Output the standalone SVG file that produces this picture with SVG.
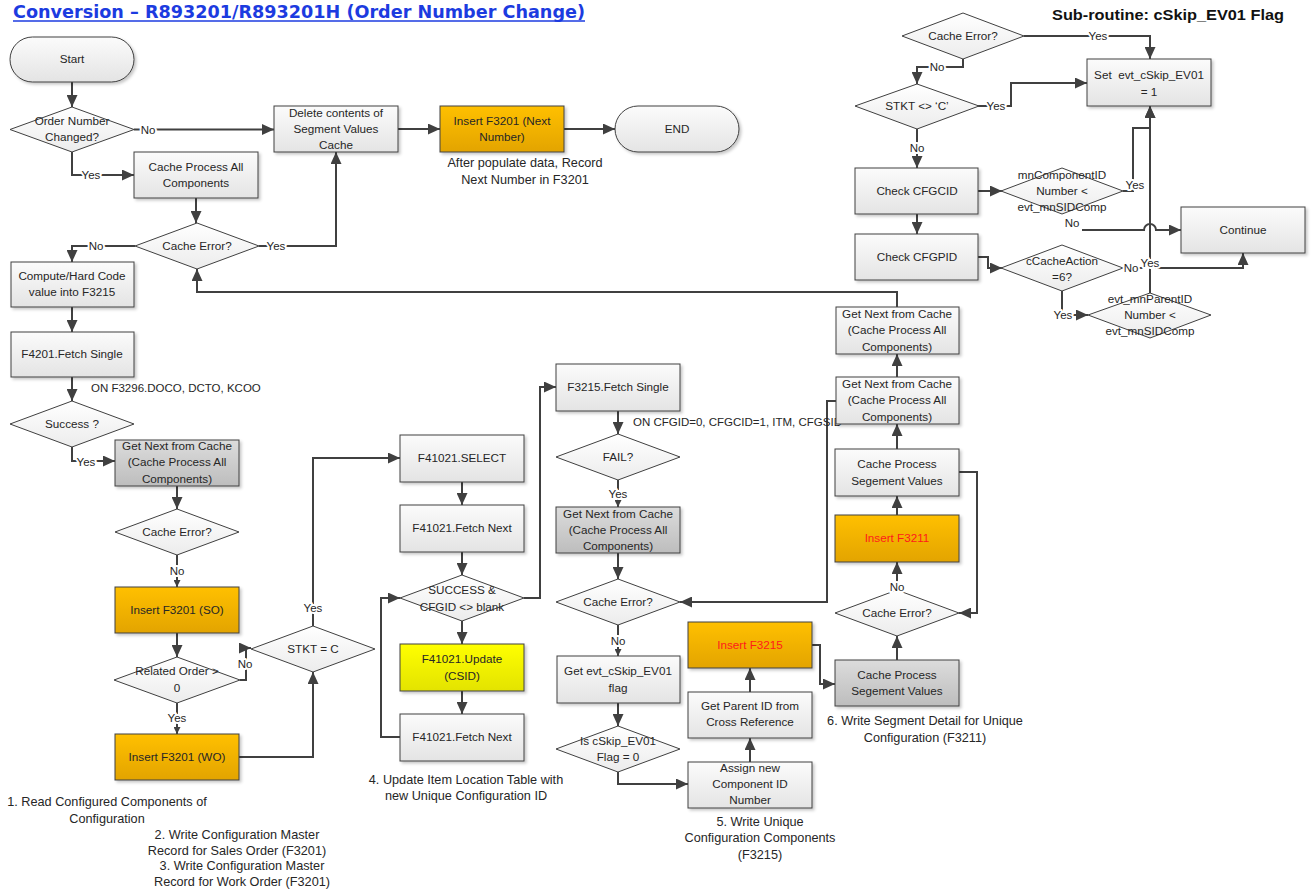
<svg xmlns="http://www.w3.org/2000/svg" width="1315" height="895" viewBox="0 0 1315 895">
<defs>
<style>
.t{font-family:"Liberation Sans",Arial,sans-serif;font-size:11.7px;fill:#262626;text-anchor:middle}
.nt{font-family:"Liberation Sans",Arial,sans-serif;font-size:12.7px;fill:#262626;text-anchor:middle}
.tl{font-family:"Liberation Sans",Arial,sans-serif;font-size:11.5px;fill:#262626;text-anchor:start}
.lb{font-family:"Liberation Sans",Arial,sans-serif;font-size:11.5px;fill:#262626;text-anchor:middle;stroke:#fff;stroke-width:4px;paint-order:stroke;stroke-linejoin:round}
.red{fill:#ff1a1a}
.bx{stroke:#404040;stroke-width:1;fill:url(#gW);filter:url(#sh)}
.gy{stroke:#404040;stroke-width:1;fill:url(#gG);filter:url(#sh)}
.or{stroke:#404040;stroke-width:1;fill:url(#gO);filter:url(#sh)}
.ye{stroke:#404040;stroke-width:1;fill:url(#gY);filter:url(#sh)}
.dm{stroke:#404040;stroke-width:1;fill:url(#gD)}
.c{fill:none;stroke:#404040;stroke-width:2;marker-end:url(#arr)}
.cs{fill:none;stroke:#404040;stroke-width:2;marker-end:url(#arrs)}
</style>
<linearGradient id="gW" x1="0" y1="0" x2="0" y2="1"><stop offset="0" stop-color="#fbfbfb"/><stop offset="1" stop-color="#e4e4e4"/></linearGradient>
<linearGradient id="gG" x1="0" y1="0" x2="0" y2="1"><stop offset="0" stop-color="#dcdcdc"/><stop offset="1" stop-color="#bdbdbd"/></linearGradient>
<linearGradient id="gO" x1="0" y1="0" x2="0" y2="1"><stop offset="0" stop-color="#ffc000"/><stop offset="1" stop-color="#e3a400"/></linearGradient>
<linearGradient id="gY" x1="0" y1="0" x2="0" y2="1"><stop offset="0" stop-color="#ffff00"/><stop offset="1" stop-color="#e3e300"/></linearGradient>
<linearGradient id="gD" x1="0" y1="0" x2="0" y2="1"><stop offset="0" stop-color="#ffffff"/><stop offset="1" stop-color="#ececec"/></linearGradient>
<filter id="sh" x="-10%" y="-10%" width="125%" height="130%"><feDropShadow dx="2" dy="2" stdDeviation="1.5" flood-color="#000" flood-opacity="0.22"/></filter>
<marker id="arr" markerUnits="userSpaceOnUse" markerWidth="13" markerHeight="11" refX="12" refY="5.5" orient="auto"><path d="M0,0 L12,5.5 L0,11 z" fill="#404040"/></marker>
<marker id="arrs" markerUnits="userSpaceOnUse" markerWidth="8" markerHeight="7" refX="7" refY="3.5" orient="auto"><path d="M0,0 L7,3.5 L0,7 z" fill="#404040"/></marker>
</defs>
<rect width="1315" height="895" fill="#ffffff"/>

<g id="titles">
<text x="13" y="18" font-family="'DejaVu Sans',Verdana,sans-serif" font-weight="bold" font-size="17" fill="#1c3be0" textLength="572" lengthAdjust="spacingAndGlyphs">Conversion – R893201/R893201H (Order Number Change)</text>
<line x1="13" y1="21" x2="585" y2="21" stroke="#1c3be0" stroke-width="1.5"/>
<text x="1052" y="20" font-family="'Liberation Sans',Arial,sans-serif" font-weight="bold" font-size="14" fill="#111" textLength="232" lengthAdjust="spacingAndGlyphs">Sub-routine: cSkip_EV01 Flag</text>
</g>

<g id="connectors">
<path class="c" d="M72,82 V107"/>
<path class="c" d="M134,129.5 H274"/>
<path class="c" d="M398,129 H440"/>
<path class="c" d="M564,129 H615"/>
<path class="c" d="M72,152 V175 H134"/>
<path class="c" d="M196,198 V223"/>
<path class="c" d="M259,246 H336 V152"/>
<path class="c" d="M135,246 H72 V262"/>
<path class="c" d="M897,307 V292 H197 V269"/>
<path class="c" d="M72,307 V332"/>
<path class="c" d="M72,377 V401"/>
<path class="c" d="M72,447 V461 H115"/>
<path class="c" d="M177,486 V509"/>
<path class="cs" d="M177,555 V587"/>
<path class="c" d="M177,633 V657"/>
<path class="c" d="M240,680 H246 V648 H251"/>
<path class="cs" d="M177,703 V734"/>
<path class="c" d="M239,757 H313 V672"/>
<path class="c" d="M313,626 V458 H400"/>
<path class="c" d="M462,482 V505"/>
<path class="c" d="M462,552 V575"/>
<path class="c" d="M524,598 H540 V387 H556"/>
<path class="c" d="M462,621 V644"/>
<path class="c" d="M462,691 V714"/>
<path class="c" d="M400,737 H381 V598 H400"/>
<path class="c" d="M618,411 V434"/>
<path class="cs" d="M618,480 V507"/>
<path class="c" d="M618,553 V579"/>
<path class="cs" d="M618,625 V656"/>
<path class="c" d="M618,703 V726"/>
<path class="c" d="M618,772 V784 H688"/>
<path class="c" d="M750,762 V738"/>
<path class="c" d="M750,692 V668"/>
<path class="c" d="M812,645 H820 V684 H835"/>
<path class="c" d="M897,660 V636"/>
<path class="c" d="M897,590 V562"/>
<path class="c" d="M897,515 V496"/>
<path class="c" d="M959,472 H977 V613 H959"/>
<path class="c" d="M897,449 V424"/>
<path class="c" d="M897,377 V354"/>
<path class="c" d="M836,401 H827 V602 H680"/>
<path class="c" d="M1024,36 H1150 V59"/>
<path class="c" d="M963,59 V67 H917 V84"/>
<path class="c" d="M978,106 H1011 V83 H1087"/>
<path class="c" d="M917,129 V168"/>
<path class="c" d="M917,214 V234"/>
<path class="c" d="M978,191 H1002"/>
<path class="c" d="M1123,191 H1133 V128 H1150 V106"/>
<path class="c" d="M1082,230 H1144 A6,6 0 0 1 1156,230 H1181"/>
<path class="c" d="M978,257 H988 V268 H1002"/>
<path class="c" d="M1123,268 H1144 A6,6 0 0 1 1156,268 H1243 V253"/>
<path class="c" d="M1062,291 V315 H1088"/>
<path class="c" d="M1150,293 V106"/>
</g>

<g id="n-start"><rect class="bx" x="10" y="37" width="124" height="45" rx="22.5"/><text class="t" x="72" y="63">Start</text></g>
<g id="n-order-changed"><polygon class="dm" points="72,107 134,129.5 72,152 10,129.5"/><text class="t" x="72" y="125">Order Number</text><text class="t" x="72" y="141">Changed?</text></g>
<g id="n-delete"><rect class="bx" x="274" y="106" width="124" height="46"/><text class="t" x="336" y="117">Delete contents of</text><text class="t" x="336" y="133">Segment Values</text><text class="t" x="336" y="149">Cache</text></g>
<g id="n-insert-next"><rect class="or" x="440" y="106" width="124" height="46"/><text class="t" x="502" y="125">Insert F3201 (Next</text><text class="t" x="502" y="141">Number)</text></g>
<g id="n-end"><rect class="bx" x="615" y="106" width="124" height="46" rx="23"/><text class="t" x="677" y="133">END</text></g>
<g id="note-next"><text class="nt" x="525" y="167">After populate data, Record</text><text class="nt" x="525" y="184">Next Number in F3201</text></g>
<g id="n-cache-all"><rect class="bx" x="134" y="152" width="124" height="46"/><text class="t" x="196" y="171">Cache Process All</text><text class="t" x="196" y="187">Components</text></g>
<g id="n-cache-err1"><polygon class="dm" points="197,223 259,246 197,269 135,246"/><text class="t" x="197" y="250">Cache Error?</text></g>
<g id="n-compute"><rect class="bx" x="11" y="262" width="123" height="45"/><text class="t" x="72" y="280">Compute/Hard Code</text><text class="t" x="72" y="296">value into F3215</text></g>
<g id="n-f4201"><rect class="bx" x="11" y="332" width="123" height="45"/><text class="t" x="72" y="358">F4201.Fetch Single</text></g>
<text class="tl" x="91" y="392">ON F3296.DOCO, DCTO, KCOO</text>
<g id="n-success"><polygon class="dm" points="72,401 134,424 72,447 10,424"/><text class="t" x="72" y="428">Success ?</text></g>
<g id="n-getnext1"><rect class="gy" x="115" y="440" width="124" height="46"/><text class="t" x="177" y="450">Get Next from Cache</text><text class="t" x="177" y="466">(Cache Process All</text><text class="t" x="177" y="483">Components)</text></g>
<g id="n-cache-err2"><polygon class="dm" points="177,509 239,532 177,555 115,532"/><text class="t" x="177" y="536">Cache Error?</text></g>
<g id="n-insert-so"><rect class="or" x="115" y="587" width="124" height="46"/><text class="t" x="177" y="614">Insert F3201 (SO)</text></g>
<g id="n-related"><polygon class="dm" points="177,657 240,680 177,703 114,680"/><text class="t" x="177" y="675">Related Order &gt;</text><text class="t" x="177" y="692">0</text></g>
<g id="n-insert-wo"><rect class="or" x="115" y="734" width="124" height="46"/><text class="t" x="177" y="761">Insert F3201 (WO)</text></g>
<g id="n-stkt"><polygon class="dm" points="313,626 375,649 313,672 251,649"/><text class="t" x="313" y="653">STKT = C</text></g>
<g id="notes-left">
<text class="nt" x="107" y="806">1. Read Configured Components of</text><text class="nt" x="107" y="823">Configuration</text>
<text class="nt" x="237" y="839">2. Write Configuration Master</text><text class="nt" x="237" y="855">Record for Sales Order (F3201)</text>
<text class="nt" x="242" y="870">3. Write Configuration Master</text><text class="nt" x="242" y="886">Record for Work Order (F3201)</text>
</g>

<g id="n-select"><rect class="bx" x="400" y="435" width="124" height="47"/><text class="t" x="462" y="462">F41021.SELECT</text></g>
<g id="n-fetchnext1"><rect class="bx" x="400" y="505" width="124" height="47"/><text class="t" x="462" y="532">F41021.Fetch Next</text></g>
<g id="n-success-cfgid"><polygon class="dm" points="462,575 524,598 462,621 400,598"/><text class="t" x="462" y="594">SUCCESS &amp;</text><text class="t" x="462" y="611">CFGID &lt;&gt; blank</text></g>
<g id="n-update"><rect class="ye" x="400" y="644" width="124" height="47"/><text class="t" x="462" y="663">F41021.Update</text><text class="t" x="462" y="680">(CSID)</text></g>
<g id="n-fetchnext2"><rect class="bx" x="400" y="714" width="124" height="47"/><text class="t" x="462" y="741">F41021.Fetch Next</text></g>
<g id="note-4"><text class="nt" x="466" y="784">4. Update Item Location Table with</text><text class="nt" x="466" y="800">new Unique Configuration ID</text></g>

<g id="n-f3215-fetch"><rect class="bx" x="556" y="364" width="124" height="47"/><text class="t" x="618" y="391">F3215.Fetch Single</text></g>
<text class="tl" x="633" y="426">ON CFGID=0, CFGCID=1, ITM, CFGSID</text>
<g id="n-fail"><polygon class="dm" points="618,434 680,457 618,480 556,457"/><text class="t" x="618" y="461">FAIL?</text></g>
<g id="n-getnext2"><rect class="gy" x="556" y="507" width="124" height="46"/><text class="t" x="618" y="518">Get Next from Cache</text><text class="t" x="618" y="534">(Cache Process All</text><text class="t" x="618" y="550">Components)</text></g>
<g id="n-cache-err3"><polygon class="dm" points="618,579 680,602 618,625 556,602"/><text class="t" x="618" y="606">Cache Error?</text></g>
<g id="n-get-evt"><rect class="bx" x="557" y="656" width="123" height="47"/><text class="t" x="618" y="675">Get evt_cSkip_EV01</text><text class="t" x="618" y="692">flag</text></g>
<g id="n-is-cskip"><polygon class="dm" points="618,726 680,749 618,772 556,749"/><text class="t" x="618" y="745">Is cSkip_EV01</text><text class="t" x="618" y="761">Flag = 0</text></g>
<g id="n-assign"><rect class="bx" x="688" y="762" width="124" height="46"/><text class="t" x="750" y="772">Assign new</text><text class="t" x="750" y="788">Component ID</text><text class="t" x="750" y="804">Number</text></g>
<g id="n-get-parent"><rect class="bx" x="688" y="692" width="124" height="46"/><text class="t" x="750" y="710">Get Parent ID from</text><text class="t" x="750" y="726">Cross Reference</text></g>
<g id="n-insert-f3215"><rect class="or" x="688" y="622" width="124" height="46"/><text class="t red" x="750" y="649">Insert F3215</text></g>
<g id="note-5"><text class="nt" x="760" y="826">5. Write Unique</text><text class="nt" x="760" y="842">Configuration Components</text><text class="nt" x="760" y="859">(F3215)</text></g>

<g id="n-cpsv-gray"><rect class="gy" x="835" y="660" width="124" height="46"/><text class="t" x="897" y="679">Cache Process</text><text class="t" x="897" y="695">Segement Values</text></g>
<g id="note-6"><text class="nt" x="925" y="725">6. Write Segment Detail for Unique</text><text class="nt" x="925" y="742">Configuration (F3211)</text></g>
<g id="n-cache-err4"><polygon class="dm" points="897,590 959,613 897,636 835,613"/><text class="t" x="897" y="617">Cache Error?</text></g>
<g id="n-insert-f3211"><rect class="or" x="835" y="515" width="124" height="47"/><text class="t red" x="897" y="542">Insert F3211</text></g>
<g id="n-cpsv"><rect class="bx" x="835" y="449" width="124" height="47"/><text class="t" x="897" y="468">Cache Process</text><text class="t" x="897" y="485">Segement Values</text></g>
<g id="n-getnext3"><rect class="bx" x="836" y="377" width="123" height="47"/><text class="t" x="897" y="388">Get Next from Cache</text><text class="t" x="897" y="404">(Cache Process All</text><text class="t" x="897" y="421">Components)</text></g>
<g id="n-getnext4"><rect class="bx" x="836" y="307" width="123" height="47"/><text class="t" x="897" y="318">Get Next from Cache</text><text class="t" x="897" y="334">(Cache Process All</text><text class="t" x="897" y="351">Components)</text></g>

<g id="s-cache-err"><polygon class="dm" points="963,13 1024,36 963,59 902,36"/><text class="t" x="963" y="40">Cache Error?</text></g>
<g id="s-set"><rect class="bx" x="1087" y="59" width="124" height="47"/><text class="t" x="1149" y="79" xml:space="preserve">Set  evt_cSkip_EV01</text><text class="t" x="1149" y="96">= 1</text></g>
<g id="s-stkt"><polygon class="dm" points="917,84 979,106 917,129 855,106"/><text class="t" x="917" y="110">STKT &lt;&gt; ‘C’</text></g>
<g id="s-check-cfgcid"><rect class="bx" x="855" y="168" width="123" height="46"/><text class="t" x="917" y="195">Check CFGCID</text></g>
<g id="s-check-cfgpid"><rect class="bx" x="855" y="234" width="123" height="46"/><text class="t" x="917" y="261">Check CFGPID</text></g>
<g id="s-mncomp"><polygon class="dm" points="1062,168 1123,191 1062,214 1001,191"/><text class="t" x="1062" y="179">mnComponentID</text><text class="t" x="1062" y="195">Number &lt;</text><text class="t" x="1062" y="211">evt_mnSIDComp</text></g>
<g id="s-continue"><rect class="bx" x="1181" y="207" width="124" height="46"/><text class="t" x="1243" y="234">Continue</text></g>
<g id="s-ccache"><polygon class="dm" points="1062,245 1123,268 1062,291 1001,268"/><text class="t" x="1062" y="265">cCacheAction</text><text class="t" x="1062" y="281">=6?</text></g>
<g id="s-parent"><polygon class="dm" points="1150,293 1211,315 1150,338 1088,315"/><text class="t" x="1150" y="303">evt_mnParentID</text><text class="t" x="1150" y="319">Number &lt;</text><text class="t" x="1150" y="335">evt_mnSIDComp</text></g>

<g id="labels">
<text class="lb" x="148" y="134">No</text>
<text class="lb" x="91" y="179">Yes</text>
<text class="lb" x="276" y="250">Yes</text>
<text class="lb" x="96" y="250">No</text>
<text class="lb" x="86" y="466">Yes</text>
<text class="lb" x="177" y="575">No</text>
<text class="lb" x="245" y="668">No</text>
<text class="lb" x="177" y="722">Yes</text>
<text class="lb" x="313" y="612">Yes</text>
<text class="lb" x="618" y="498">Yes</text>
<text class="lb" x="618" y="645">No</text>
<text class="lb" x="897" y="591">No</text>
<text class="lb" x="1098" y="40">Yes</text>
<text class="lb" x="937" y="71">No</text>
<text class="lb" x="996" y="110">Yes</text>
<text class="lb" x="917" y="152">No</text>
<text class="lb" x="1135" y="189">Yes</text>
<text class="lb" x="1072" y="227">No</text>
<text class="lb" x="1131" y="272">No</text>
<text class="lb" x="1150" y="267">Yes</text>
<text class="lb" x="1063" y="319">Yes</text>
</g>
</svg>
